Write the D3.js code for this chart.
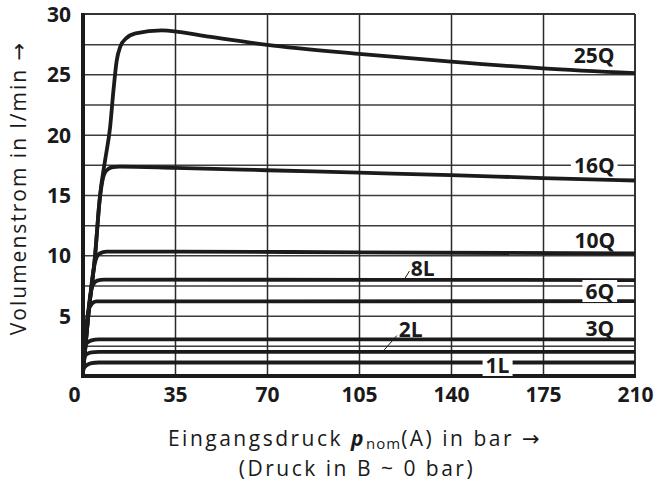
<!DOCTYPE html>
<html>
<head>
<meta charset="utf-8">
<script src="https://cdn.jsdelivr.net/npm/d3@7"></script>
<style>
  html, body { margin: 0; padding: 0; background: #fff; }
  svg { display: block; }
  text { font-family: "Open Sans", "DejaVu Sans", sans-serif; fill: #1a1a1a; }
</style>
</head>
<body>
<svg id="chart" width="656" height="481"></svg>
<script>
// ---------- data ----------
const xTicks = [0, 35, 70, 105, 140, 175, 210];
const yTicks = [5, 10, 15, 20, 25, 30];
const xGrid = [35, 70, 105, 140, 175];
const yGrid = [2.5, 5, 7.5, 10, 12.5, 15, 17.5, 20, 22.5, 25, 27.5];

const s25Q = [[0,0.3],[2,5],[4.6,10],[6.5,15],[8.5,18],[10.3,20.6],[11.6,23.7],[12.8,26.1],[14.2,27.3],[16.5,28.0],[20,28.4],[30,28.65],[47,28.15],[70,27.45],[105,26.7],[140,26.05],[175,25.5],[210,25.1]];
const s16Q = [[0,0.3],[2,5],[4.6,10],[6.2,14.3],[7.4,16.2],[8.8,17.0],[11,17.3],[14,17.35],[35,17.25],[70,17.05],[105,16.85],[140,16.65],[175,16.4],[210,16.2]];
const s10Q = [[0,0.3],[1.8,4.5],[3.6,8.2],[4.8,9.6],[6.3,10.15],[9,10.3],[35,10.3],[105,10.25],[210,10.15]];
const s8L  = [[0,0.3],[1.5,4.3],[2.8,6.7],[3.9,7.6],[5.4,7.9],[8,7.98],[210,7.95]];
const s6Q  = [[0,0.3],[1.1,3.8],[2.1,5.4],[3.4,6.0],[5,6.18],[210,6.2]];
const s3Q  = [[0,2.3],[1.4,2.72],[3.2,2.95],[6,3.04],[210,3.04]];
const s2L  = [[0,1.5],[1.4,1.8],[3.2,1.96],[6,2.0],[210,2.0]];
const s1L  = [[0,0.6],[1.4,0.9],[3.2,1.06],[6,1.12],[210,1.12]];

const seriesNames = ["25Q", "16Q", "10Q", "8L", "6Q", "3Q", "2L", "1L"];
const seriesData  = [s25Q, s16Q, s10Q, s8L, s6Q, s3Q, s2L, s1L];

// label anchor (data coords: x centre, y baseline) and optional white knockout
const labelX = [194.4, 194.5, 194.7, 129.2, 196.6, 196.6, 124.7, 157.7];
const labelY = [25.96, 16.8, 10.6, 8.29, 6.38, 3.31, 3.23, 0.25];
const labelKnock = [false, true, false, false, true, false, false, true];
// leader lines for 8L and 2L (data coords)
const leaders = [
  [[122.2, 7.99], [124.2, 8.7]],
  [[114.6, 2.16], [119.4, 3.35]]
];

// ---------- layout ----------
const svg = d3.select("#chart");
const x = d3.scaleLinear().domain([0, 210]).range([83, 635]);
const y = d3.scaleLinear().domain([0, 30]).range([376, 14]);
const X0 = x(0), X1 = x(210), Y0 = y(0), Y1 = y(30);

// grid via axes
svg.append("g")
  .attr("transform", `translate(${X0},0)`)
  .call(d3.axisLeft(y).tickValues(yGrid).tickSize(-(X1 - X0)).tickFormat(""))
  .call(g => g.select(".domain").remove())
  .call(g => g.selectAll("line").attr("stroke", "#3c3c3c").attr("stroke-width", 1.5));

svg.append("g")
  .attr("transform", `translate(0,${Y0})`)
  .call(d3.axisBottom(x).tickValues(xGrid).tickSize(-(Y0 - Y1)).tickFormat(""))
  .call(g => g.select(".domain").remove())
  .call(g => g.selectAll("line").attr("stroke", "#2a2a2a").attr("stroke-width", 1.5));

// frame: top & right thin
svg.append("line").attr("x1", X0).attr("x2", X1).attr("y1", Y1).attr("y2", Y1)
  .attr("stroke", "#333").attr("stroke-width", 2);
svg.append("line").attr("x1", X1).attr("x2", X1).attr("y1", Y1).attr("y2", Y0)
  .attr("stroke", "#333").attr("stroke-width", 2);

const line = d3.line().x(d => x(d[0])).y(d => y(d[1])).curve(d3.curveMonotoneX);

svg.append("g").selectAll("path")
  .data(seriesData)
  .join("path")
  .attr("d", line)
  .attr("fill", "none")
  .attr("stroke", "#1c1a1a")
  .attr("stroke-width", 3.8)
  .attr("stroke-linejoin", "round")
  .attr("stroke-linecap", "butt");

// axes: left and bottom thick
svg.append("line").attr("x1", X0).attr("x2", X0).attr("y1", Y1 - 1).attr("y2", Y0 + 2)
  .attr("stroke", "#1c1a1a").attr("stroke-width", 4);
svg.append("line").attr("x1", X0 - 2).attr("x2", X1 + 1).attr("y1", Y0).attr("y2", Y0)
  .attr("stroke", "#1c1a1a").attr("stroke-width", 4);

// tick labels via axes
const yAx = svg.append("g")
  .attr("transform", `translate(${X0 - 12},0)`)
  .call(d3.axisLeft(y).tickValues(yTicks).tickSize(0).tickPadding(0))
  .call(g => g.select(".domain").remove());
yAx.selectAll("text")
  .style("font-family", '"Open Sans", sans-serif')
  .style("font-weight", 700).style("font-size", "21px").attr("fill", "#1a1a1a")
  .attr("dy", "0.36em");

const xAx = svg.append("g")
  .attr("transform", `translate(0,${Y0 + 10})`)
  .call(d3.axisBottom(x).tickValues(xTicks).tickSize(0).tickPadding(0))
  .call(g => g.select(".domain").remove());
xAx.selectAll("text")
  .style("font-family", '"Open Sans", sans-serif')
  .style("font-weight", 700).style("font-size", "21px").attr("fill", "#1a1a1a")
  .attr("dy", "0.76em")
  .attr("dx", d => d === 0 ? -9 : 0);

// series labels
const lab = svg.append("g");
seriesNames.forEach((name, i) => {
  const t = lab.append("text")
    .attr("x", x(labelX[i])).attr("y", y(labelY[i]))
    .attr("text-anchor", "middle")
    .style("font-weight", 700).style("font-size", "21px")
    .text(name);
  if (labelKnock[i]) {
    const bb = t.node().getBBox();
    lab.insert("rect", "text")
      .attr("x", bb.x - 3).attr("y", bb.y + 3).attr("width", bb.width + 6).attr("height", bb.height - 6)
      .attr("fill", "#fff");
  }
});
// leaders
lab.selectAll("line.leader")
  .data(leaders).join("line").attr("class", "leader")
  .attr("x1", d => x(d[0][0])).attr("y1", d => y(d[0][1]))
  .attr("x2", d => x(d[1][0])).attr("y2", d => y(d[1][1]))
  .attr("stroke", "#1c1a1a").attr("stroke-width", 1);

// axis titles
const xt = svg.append("text")
  .attr("x", 355).attr("y", 446)
  .attr("text-anchor", "middle")
  .style("font-size", "21px")
  .style("letter-spacing", "2.5px");
xt.append("tspan").text("Eingangsdruck ");
xt.append("tspan").text("p").style("font-weight", 700).style("font-style", "italic");
xt.append("tspan").text("nom").style("font-size", "15px").style("letter-spacing", "1px").attr("dy", 3);
xt.append("tspan").text("(A) in bar \u2192").attr("dy", -3);

svg.append("text")
  .attr("x", 357).attr("y", 476)
  .attr("text-anchor", "middle")
  .style("font-size", "21px")
  .style("letter-spacing", "2.5px")
  .text("(Druck in B ~ 0 bar)");

svg.append("text")
  .attr("transform", `translate(26,188) rotate(-90)`)
  .attr("text-anchor", "middle")
  .style("font-size", "21px")
  .style("letter-spacing", "2px")
  .text("Volumenstrom in l/min \u2192");
</script>
</body>
</html>
